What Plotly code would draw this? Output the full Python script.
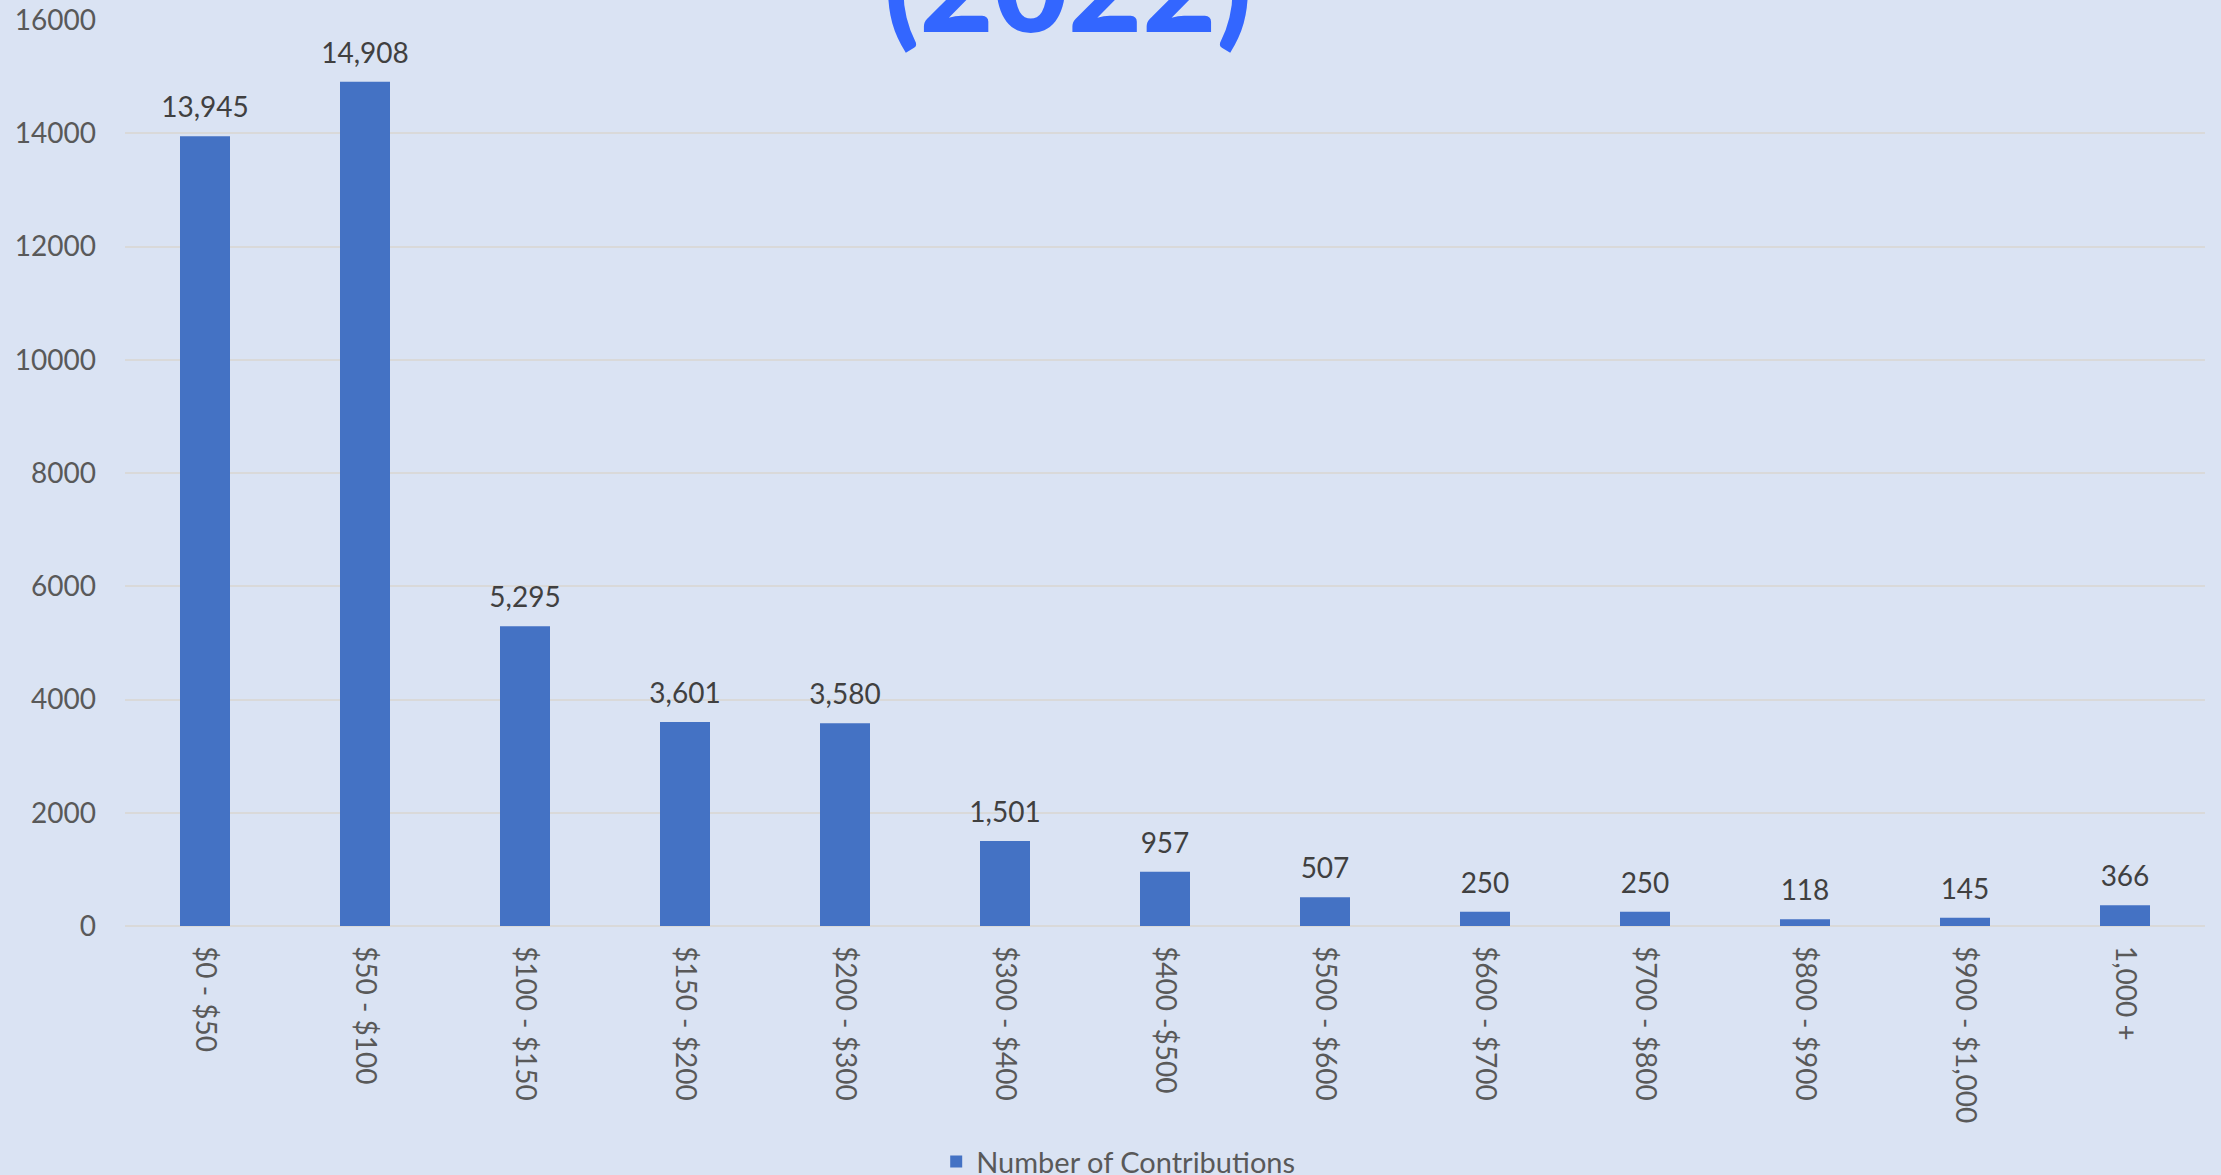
import plotly.graph_objects as go

categories = ["$0 - $50", "$50 - $100", "$100 - $150", "$150 - $200", "$200 - $300",
              "$300 - $400", "$400 -$500", "$500 - $600", "$600 - $700", "$700 - $800",
              "$800 - $900", "$900 - $1,000", "1,000 +"]
contributions = [13945, 14908, 5295, 3601, 3580, 1501, 957, 507, 250, 250, 118, 145, 366]
y_ticks = [0, 2000, 4000, 6000, 8000, 10000, 12000, 14000, 16000]
series_name = "Number of Contributions"
title_text = "(2022)"

BG = "#DAE3F3"
BAR = "#4472C4"
GRID = "#D9D9D9"
TICK = "#595959"
LABEL = "#404040"
FONT = "Lato"

fig = go.Figure()
fig.add_trace(go.Bar(
    x=categories,
    y=contributions,
    name=series_name,
    marker=dict(color=BAR, line=dict(width=0)),
    showlegend=True,
    hoverinfo="x+y",
))
# data labels, offset above each bar top (invisible marker sets the gap)
fig.add_trace(go.Scatter(
    x=categories,
    y=contributions,
    mode="markers+text",
    texttemplate="%{y:,}",
    textposition="top center",
    textfont=dict(family=FONT, size=28, color=LABEL),
    marker=dict(size=18, opacity=0),
    cliponaxis=False,
    showlegend=False,
    hoverinfo="skip",
))

fig.update_layout(
    width=2221, height=1175,
    paper_bgcolor=BG, plot_bgcolor=BG,
    margin=dict(l=125, r=16, t=20, b=249, autoexpand=False),
    bargap=0.6875,
    font=dict(family=FONT, size=28, color=TICK),
    showlegend=True,
    legend=dict(orientation="h", x=0.39, xanchor="left", y=-0.26, yanchor="middle",
                font=dict(family=FONT, size=29, color=TICK), bgcolor="rgba(0,0,0,0)"),
    annotations=[dict(text=title_text, xref="paper", yref="paper", x=(1068 - 125) / 2080,
                      y=1.041, xanchor="center", yanchor="middle", showarrow=False,
                      font=dict(family=FONT, size=128, color="#3366FF", weight=900))],
)
fig.update_xaxes(
    range=[-0.5, len(categories) - 0.5],
    tickangle=90, showgrid=False, showline=False, ticks="",
    tickfont=dict(family=FONT, size=28, color=TICK), ticklabelstandoff=19,
)
fig.update_yaxes(
    range=[0, 16000], tickvals=y_ticks, tickformat="d",
    showgrid=True, gridcolor=GRID, gridwidth=2,
    zeroline=True, zerolinecolor=GRID, zerolinewidth=2,
    showline=False, ticks="",
    tickfont=dict(family=FONT, size=28, color=TICK), ticklabelstandoff=28,
)

fig.write_html("out.html", config={"displayModeBar": False},
               post_script="document.body.style.margin='0';")
